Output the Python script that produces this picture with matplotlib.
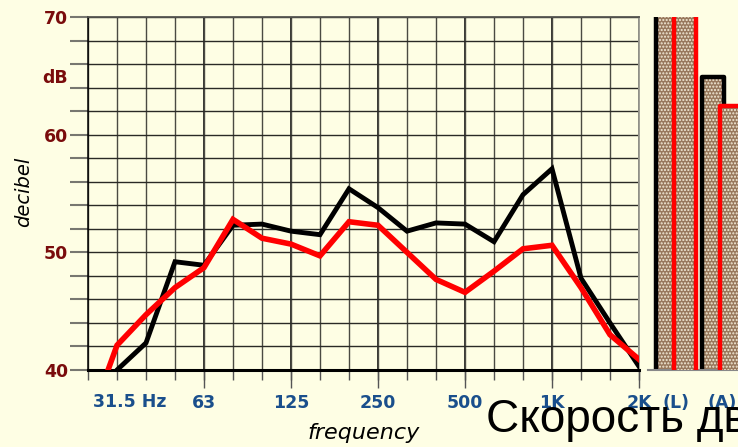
import matplotlib.pyplot as plt
import numpy as np

# 1/3-octave bands 25 Hz .. 2 kHz
bandas = ['25', '31.5', '40', '50', '63', '80', '100', '125', '160', '200',
          '250', '315', '400', '500', '630', '800', '1K', '1.25K', '1.6K', '2K']
nivel_negro = [36.0, 40.0, 42.3, 49.2, 48.9, 52.3, 52.4, 51.8, 51.5, 55.4,
               53.8, 51.8, 52.5, 52.4, 50.9, 54.9, 57.1, 47.8, 44.0, 40.3]
nivel_rojo = [35.3, 42.1, 44.7, 47.0, 48.7, 52.8, 51.2, 50.7, 49.7, 52.6,
              52.3, 50.0, 47.7, 46.6, 48.4, 50.3, 50.6, 47.0, 43.0, 40.9]

# octave labels
idx_octava = [4, 7, 10, 13, 16, 19]
etiq_octava = ['63', '125', '250', '500', '1K', '2K']

# overall levels (L) and (A)
totales = ['(L)', '(A)']
total_negro = [76.0, 64.9]
total_rojo = [75.0, 62.4]

fondo = '#fefee4'
azul = '#1a4f8c'
granate = '#7a0c0c'
relleno = '#98785c'

fig = plt.figure(figsize=(7.38, 4.47), dpi=100, facecolor=fondo)
ax = fig.add_axes([88/738, 77/447, 551/738, 353/447])
ax.set_facecolor(fondo)

x = np.arange(len(bandas))
ax.plot(x, nivel_negro, color='black', lw=3.5, solid_joinstyle='miter', zorder=3)
ax.plot(x, nivel_rojo, color='red', lw=4.0, solid_joinstyle='miter', zorder=4)

ax.set_xlim(0, 19)
ax.set_ylim(40, 70)

ax.xaxis.remove_overlapping_locs = False
ax.yaxis.remove_overlapping_locs = False
ax.set_xticks(idx_octava)
ax.set_xticklabels(etiq_octava)
ax.set_xticks(x, minor=True)
ax.set_yticks([40, 50, 60, 65, 70])
ax.set_yticklabels(['40', '50', '60', 'dB', '70'])
ax.set_yticks(np.arange(40, 71, 2), minor=True)

ax.tick_params(axis='x', which='major', length=13, width=1.0, color='#555555',
               pad=4.3, labelsize=12.5, labelcolor=azul)
ax.tick_params(axis='x', which='minor', length=7.2, width=1.0, color='#555555')
ax.tick_params(axis='y', which='major', length=0, pad=14.4, labelsize=12.5,
               labelcolor=granate)
ax.tick_params(axis='y', which='minor', length=13, width=1.5, color='#777770')
for t in ax.get_xticklabels() + ax.get_yticklabels():
    t.set_fontweight('bold')

ax.grid(True, axis='x', which='minor', color='#4a4a42', lw=1.0)
ax.grid(True, axis='x', which='major', color='black', lw=1.1)
ax.grid(True, axis='y', which='minor', color='#2a2a26', lw=1.0)
ax.set_axisbelow(True)

ax.spines['bottom'].set_linewidth(2.2)
ax.spines['bottom'].set_color('black')
ax.spines['left'].set_color('black')
ax.spines['left'].set_linewidth(1.1)
ax.spines['top'].set_color('#555550')
ax.spines['top'].set_linewidth(1.3)
ax.spines['right'].set_color('#999990')
ax.spines['right'].set_linewidth(1.3)

ax.annotate('31.5 Hz', xy=(1, 0), xycoords=('data', 'axes fraction'),
            xytext=(-24, -37), textcoords='offset pixels', ha='left',
            va='baseline', fontsize=12.5, fontweight='bold', color=azul)

ax.set_ylabel('decibel', fontsize=14, style='italic')
ax.yaxis.set_label_coords(-0.100, 0.505)
ax.set_xlabel('frequency', fontsize=16, style='italic')
ax.xaxis.set_label_coords(0.5, -0.150)

# overall level bars: fill, dots, outline
bx = fig.add_axes([648/738, 77/447, 90/738, 353/447])
bx.patch.set_alpha(0)
pos = np.arange(len(totales))
for desp, vals, borde, z in [(-0.196, total_negro, 'black', 2),
                             (0.196, total_rojo, 'red', 3)]:
    bx.bar(pos + desp, vals, width=0.478, color=relleno, lw=0, zorder=z)
    bx.bar(pos + desp, vals, width=0.478, color='none', edgecolor='#f4ecd8',
           lw=0, hatch='.....', zorder=z)
    bx.bar(pos + desp, vals, width=0.478, color='none', edgecolor=borde,
           lw=3.2, joinstyle='round', zorder=z)
bx.set_xlim(-0.609, 1.348)
bx.set_ylim(40, 70)
bx.set_yticks([])
bx.set_xticks(pos)
bx.set_xticklabels(totales)
bx.tick_params(axis='x', length=0, pad=17.5, labelsize=12.5, labelcolor=azul)
for t in bx.get_xticklabels():
    t.set_fontweight('bold')
for s in ['top', 'left', 'right']:
    bx.spines[s].set_visible(False)
bx.spines['bottom'].set_color('#888888')
bx.spines['bottom'].set_linewidth(1.5)

fig.text(486/738, 15/447, 'Скорость движения', fontsize=33,
         family=['Liberation Sans', 'DejaVu Sans'], color='black')

fig.savefig('out.png', dpi=100, facecolor=fondo)
